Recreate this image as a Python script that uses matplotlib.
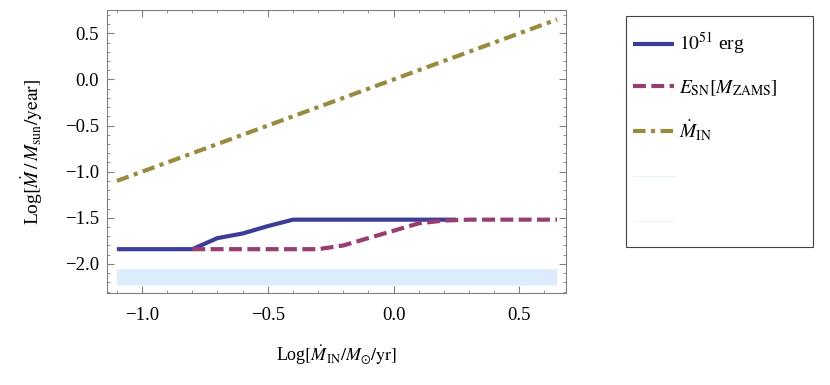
import matplotlib
matplotlib.use("Agg")
import matplotlib.pyplot as plt
from matplotlib.patches import Rectangle
from matplotlib.ticker import MultipleLocator, FuncFormatter

# Data
x_in = [-1.1, 0.65]
mdot_in = [-1.1, 0.65]

x_fixed = [-1.1, -0.8, -0.7, -0.6, -0.5, -0.4, 0.25]
mdot_fixed = [-1.84, -1.84, -1.72, -1.67, -1.59, -1.52, -1.52]

x_esn = [-0.8, -0.3, -0.2, -0.1, 0.0, 0.1, 0.2, 0.3, 0.65]
mdot_esn = [-1.84, -1.84, -1.80, -1.72, -1.64, -1.56, -1.53, -1.52, -1.52]

band_x = [-1.1, 0.65]
band_top = [-2.05, -2.05]
band_bottom = [-2.23, -2.23]

labels = [r'$10^{51}$ erg', r'$E_{\mathrm{SN}}[M_{\mathrm{ZAMS}}]$',
          r'$\dot{M}_{\mathrm{IN}}$', r'$\dot{M}_{\mathrm{IN}}$', r'$\dot{M}_{\mathrm{IN}}$']

plt.rcParams['font.family'] = ['Liberation Serif', 'DejaVu Serif']
plt.rcParams['mathtext.fontset'] = 'stix'
plt.rcParams['font.size'] = 13.5

blue = '#3d3d99'
purple = '#993d71'
olive = '#998b3d'
band_col = '#dcecfc'

fig = plt.figure(figsize=(8.3, 3.85), dpi=100)
ax = fig.add_axes([0.129, 0.239, 0.553, 0.735])

h1, = ax.plot(x_fixed, mdot_fixed, color=blue, lw=3, solid_capstyle='butt', zorder=3)
h2, = ax.plot(x_esn, mdot_esn, color=purple, lw=3, dashes=(3.1, 1.3),
              dash_capstyle='butt', zorder=4)
h3, = ax.plot(x_in, mdot_in, color=olive, lw=3, dashes=(3.0, 1.3, 1.0, 1.3),
              dash_capstyle='butt', zorder=3)
h4, = ax.plot(band_x, band_top, color='#e4f2fc', lw=0.8)
h5, = ax.plot(band_x, band_bottom, color='#eef6fd', lw=0.8)
ax.fill_between(band_x, band_bottom, band_top, color=band_col, lw=0, zorder=1)

ax.set_xlim(-1.139, 0.686)
ax.set_ylim(-2.315, 0.753)
fmt = FuncFormatter(lambda v, p: f'{v:.1f}'.replace('-', '\u2212'))
ax.xaxis.set_major_locator(MultipleLocator(0.5))
ax.xaxis.set_minor_locator(MultipleLocator(0.1))
ax.yaxis.set_major_locator(MultipleLocator(0.5))
ax.yaxis.set_minor_locator(MultipleLocator(0.1))
ax.xaxis.set_major_formatter(fmt)
ax.yaxis.set_major_formatter(fmt)
ax.tick_params(which='both', direction='in', top=True, right=True, color='#808080')
ax.tick_params(which='major', length=5, width=0.8, labelsize=13.5)
ax.tick_params(which='minor', length=2.5, width=0.6)
ax.tick_params(axis='x', which='major', pad=10)
ax.tick_params(axis='y', which='major', pad=6)
for s in ax.spines.values():
    s.set_color('#808080')
    s.set_linewidth(0.8)

ax.set_xlabel(r'Log$[\dot{M}_{\mathrm{IN}}/M_{\odot}/\mathrm{yr}]$', fontsize=13)
ax.set_ylabel(r'Log$[\dot{M}\,/\,M_{\mathrm{sun}}/\mathrm{year}]$', fontsize=14)
ax.xaxis.set_label_coords(0.5, -0.177)
ax.yaxis.set_label_coords(-0.135, 0.5)

# legend frame drawn separately so it can be taller than its contents
fig.patches.append(Rectangle((0.754, 0.358), 0.226, 0.601, transform=fig.transFigure,
                             fill=False, edgecolor='#444444', lw=0.8))
leg = fig.legend([h1, h2, h3, h4, h5], labels, loc='upper left', fontsize=14,
                 bbox_to_anchor=(0.745, 0.957), frameon=False, handlelength=2.1,
                 handletextpad=0.25, labelspacing=1.08, borderpad=0.75, borderaxespad=0)
# the last two entries have no text
for t in leg.get_texts()[3:]:
    t.set_color('none')

fig.savefig('out.png', dpi=100)
